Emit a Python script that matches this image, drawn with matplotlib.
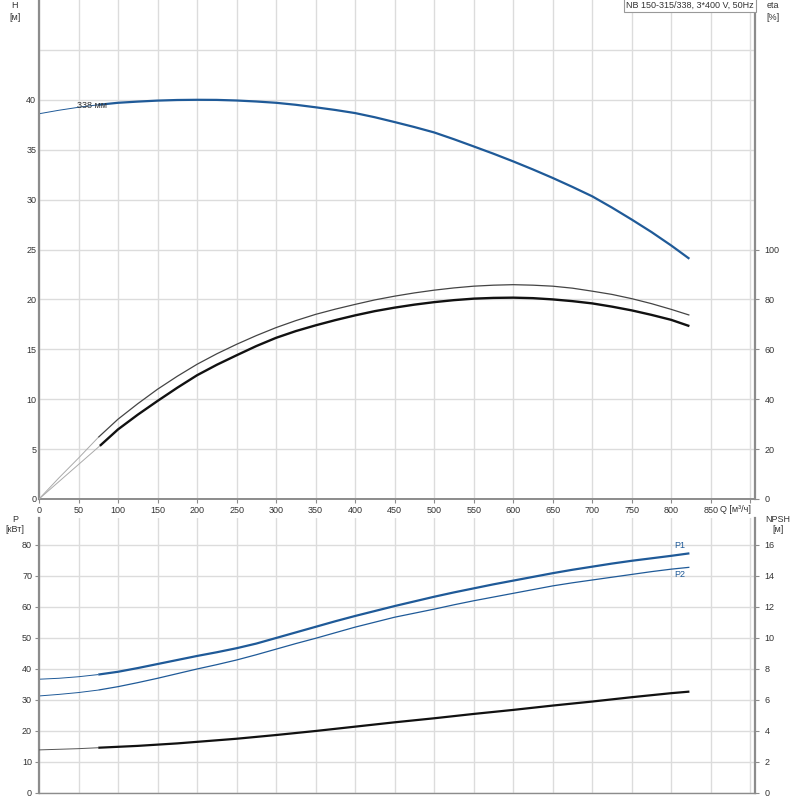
import numpy as np
import matplotlib
matplotlib.use("Agg")
import matplotlib.pyplot as plt

plt.rcParams['font.family'] = ['Liberation Sans', 'DejaVu Sans']
plt.rcParams['font.size'] = 6.5

BLUE = "#1f5a98"
GRID = "#dcdcdc"
SPINE = "#8c8c8c"
TXT = "#333333"

# ---- data ----
title = "NB 150-315/338, 3*400 V, 50Hz"
impeller = "338 мм"

# flow points (m3/h) shared by head, power and NPSH curves
q = [0, 25, 50, 75, 100, 125, 150, 175, 200, 225, 250, 275, 300, 325, 350, 375, 400, 425, 450,
     475, 500, 525, 550, 575, 600, 625, 650, 675, 700, 725, 750, 775, 800, 823]

head = [38.6, 38.95, 39.25, 39.5, 39.7, 39.82, 39.92, 39.98, 40.0, 39.99, 39.93, 39.83, 39.7, 39.5,
        39.25, 38.98, 38.67, 38.25, 37.77, 37.27, 36.73, 36.05, 35.33, 34.6, 33.83, 33.02, 32.17,
        31.27, 30.33, 29.2, 28.0, 26.75, 25.4, 24.07]

eta1 = [0, 8.4, 16.4, 24.7, 32.0, 38.2, 44.0, 49.2, 54.0, 58.2, 62.0, 65.5, 68.7, 71.5, 74.0, 76.1,
        78.0, 79.8, 81.3, 82.6, 83.7, 84.6, 85.3, 85.7, 85.9, 85.7, 85.3, 84.5, 83.3, 82.0, 80.3,
        78.3, 76.0, 73.7]

q_eta2 = [0, 77, 100, 125, 150, 175, 200, 225, 250, 275, 300, 325, 350, 375, 400, 425, 450, 475, 500,
          525, 550, 575, 600, 625, 650, 675, 700, 725, 750, 775, 800, 823]
eta2 = [0, 21.3, 27.9, 33.8, 39.3, 44.6, 49.6, 53.8, 57.6, 61.3, 64.6, 67.3, 69.6, 71.7, 73.6, 75.3,
        76.7, 77.9, 78.9, 79.7, 80.3, 80.6, 80.7, 80.5, 80.0, 79.3, 78.4, 77.1, 75.6, 73.8, 71.8, 69.3]

p1 = [36.7, 37.0, 37.5, 38.2, 39.1, 40.3, 41.6, 42.9, 44.2, 45.4, 46.7, 48.2, 50.0, 51.8, 53.6, 55.4,
      57.1, 58.7, 60.3, 61.8, 63.3, 64.7, 66.0, 67.3, 68.5, 69.7, 70.9, 72.0, 73.0, 74.0, 74.9,
      75.7, 76.5, 77.3]
p2 = [31.3, 31.8, 32.4, 33.2, 34.3, 35.6, 37.0, 38.5, 40.0, 41.4, 42.9, 44.6, 46.4, 48.2, 49.9, 51.7,
      53.5, 55.1, 56.7, 58.0, 59.3, 60.7, 62.0, 63.2, 64.4, 65.6, 66.8, 67.8, 68.7, 69.6, 70.5,
      71.4, 72.2, 72.8]
npsh = [2.78, 2.82, 2.86, 2.92, 2.98, 3.04, 3.12, 3.20, 3.30, 3.40, 3.50, 3.62, 3.74, 3.87, 4.00,
        4.14, 4.28, 4.42, 4.56, 4.69, 4.82, 4.96, 5.10, 5.23, 5.36, 5.50, 5.64, 5.77, 5.90, 6.04,
        6.18, 6.31, 6.44, 6.54]

Q_START = 75  # duty range starts here (thin line before)
XMAX = 906


def split_plot(ax, qq, y, color, lw, thin_color=None, start=Q_START):
    qq = np.asarray(qq, float)
    y = np.asarray(y, float)
    pre = qq <= start + 2
    post = qq >= start
    kw = dict(solid_capstyle="butt", solid_joinstyle="round")
    ax.plot(qq[pre], y[pre], color=thin_color or color, lw=0.7, **kw)
    ax.plot(qq[post], y[post], color=color, lw=lw, **kw)


def style(ax):
    for s in ax.spines.values():
        s.set_visible(False)
    for side, w in (('left', 1.6), ('right', 1.6), ('bottom', 1.4)):
        ax.spines[side].set_visible(True)
        ax.spines[side].set_color(SPINE)
        ax.spines[side].set_linewidth(w)
    ax.tick_params(colors=TXT, length=3, width=0.8, color=SPINE, pad=2)
    ax.grid(True, color=GRID, lw=1)
    ax.set_axisbelow(True)
    ax.set_xlim(0, XMAX)
    ax.set_xticks(np.arange(0, 901, 50))


def style_right(ax):
    for s in ax.spines.values():
        s.set_visible(False)
    ax.tick_params(colors=TXT, length=3, width=0.8, color=SPINE, pad=4)


fig = plt.figure(figsize=(8, 8), dpi=100)
L, R = 39 / 800, 755 / 800
ax1 = fig.add_axes([L, 1 - 499 / 800, R - L, 499 / 800])
ax2 = fig.add_axes([L, 7 / 800, R - L, 275 / 800])

# ---- top panel: head and efficiency ----
style(ax1)
ax1.set_ylim(0, 50)
ax1.set_xticklabels([str(v) for v in range(0, 851, 50)] + [""])
ax1.set_yticks(np.arange(0, 46, 5))
ax1.set_yticklabels([str(v) for v in range(0, 41, 5)] + [""])
ax1.tick_params(axis='y', length=0)

split_plot(ax1, q, head, BLUE, 1.6)
ax1.text(48, head[3] - 0.1, impeller, fontsize=6.5, color=TXT, ha='left', va='center')

ax1r = ax1.twinx()
ax1r.set_ylim(0, 200)
ax1r.set_yticks(np.arange(0, 101, 20))
style_right(ax1r)
split_plot(ax1r, q, eta1, "#444444", 0.9, thin_color="#aaaaaa")
split_plot(ax1r, q_eta2, eta2, "#111111", 1.7, thin_color="#aaaaaa")

ax1.text(0.9985, 0.999, title, transform=ax1.transAxes, ha='right', va='top', fontsize=6.5,
         color=TXT, bbox=dict(boxstyle='square,pad=0.25', fc='white', ec='#999999', lw=0.8))

fig.text(15 / 800, 1 - 6 / 800, "H", ha='center', va='center', color=TXT)
fig.text(15 / 800, 1 - 18 / 800, "[м]", ha='center', va='center', color=TXT)
fig.text(773 / 800, 1 - 6 / 800, "eta", ha='center', va='center', color=TXT)
fig.text(773 / 800, 1 - 18 / 800, "[%]", ha='center', va='center', color=TXT)
fig.text(735 / 800, 1 - 509 / 800, "Q [м³/ч]", ha='center', va='center', color=TXT)

# ---- bottom panel: power and NPSH ----
style(ax2)
ax2.set_ylim(0, 88.7)
ax2.set_xticklabels([])
ax2.tick_params(axis='x', length=0)
ax2.set_yticks(np.arange(0, 81, 10))
ax2.spines['bottom'].set_linewidth(1.0)

split_plot(ax2, q, p1, BLUE, 1.6)
split_plot(ax2, q, p2, BLUE, 0.9)
ax2.text(q[-1] - 5, p1[-1] + 1.0, "P1", color=BLUE, ha='right', va='bottom', fontsize=6.5)
ax2.text(q[-1] - 5, p2[-1] - 0.8, "P2", color=BLUE, ha='right', va='top', fontsize=6.5)

ax2r = ax2.twinx()
ax2r.set_ylim(0, 88.7 / 5)
ax2r.set_yticks(np.arange(0, 17, 2))
style_right(ax2r)
split_plot(ax2r, q, npsh, "#111111", 1.6, thin_color="#555555")

fig.text(15 / 800, 1 - 519 / 800, "P", ha='center', va='center', color=TXT)
fig.text(15 / 800, 1 - 530 / 800, "[кВт]", ha='center', va='center', color=TXT)
fig.text(778 / 800, 1 - 519 / 800, "NPSH", ha='center', va='center', color=TXT)
fig.text(778 / 800, 1 - 530 / 800, "[м]", ha='center', va='center', color=TXT)

fig.savefig("out.png", dpi=100)
